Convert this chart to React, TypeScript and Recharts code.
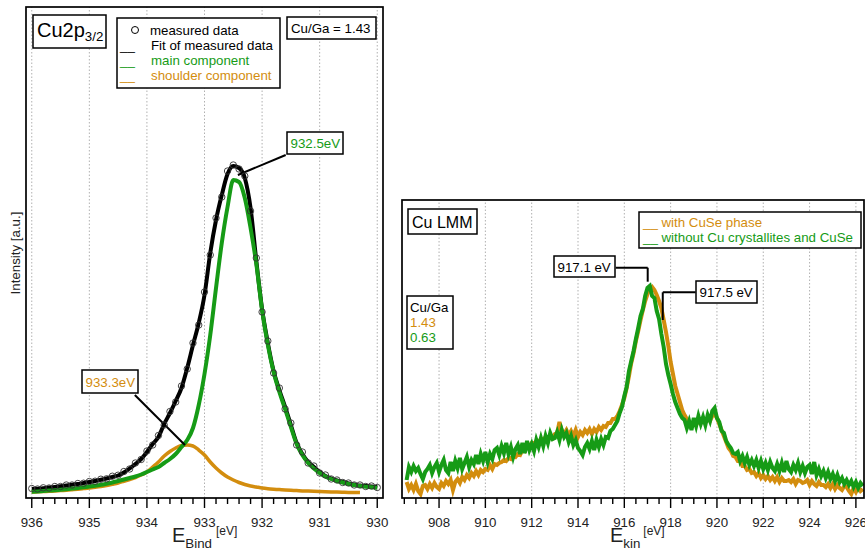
import React from "react";
import { ComposedChart, Line, XAxis, YAxis, ReferenceLine } from "recharts";

const GREEN = "#169b16";
const ORANGE = "#d38d0e";
const FONT = "'Liberation Sans', Arial, Helvetica, sans-serif";

// ---- Cu2p3/2 panel (binding energy, eV) ----
const bindEnergy = [
  936.0, 935.9, 935.8, 935.7, 935.6, 935.5, 935.4, 935.3, 935.2, 935.1, 935.0,
  934.9, 934.8, 934.7, 934.6, 934.5, 934.4, 934.3, 934.2, 934.1, 934.0,
  933.9, 933.8, 933.7, 933.6, 933.5, 933.4, 933.3, 933.2, 933.1, 933.0,
  932.9, 932.8, 932.7, 932.6, 932.5, 932.4, 932.3, 932.2, 932.1, 932.0,
  931.9, 931.8, 931.7, 931.6, 931.5, 931.4, 931.3, 931.2, 931.1, 931.0,
  930.9, 930.8, 930.7, 930.6, 930.5, 930.4, 930.3, 930.2, 930.1, 930.0,
];
const measured = [
  9.5, 9, 10.2, 10, 11.5, 11.5, 13, 13, 14.5, 14.8, 16.5,
  16.8, 18.8, 19.2, 21.8, 22.8, 26.5, 29, 35, 38.5, 47,
  53, 62.5, 73, 86.5, 96, 112, 129, 155, 173, 206,
  243, 280, 301, 327, 333, 329, 322, 287, 240, 186,
  157, 125, 110, 89, 75, 53, 46, 35, 32, 25,
  23, 19, 18, 15.5, 15, 13, 13, 11.5, 12, 10.5,
];
const fitTotal = [
  9, 9.2, 9.8, 10.4, 11.1, 11.8, 12.5, 13.2, 14, 15, 16,
  17, 18.2, 19.5, 21, 22.5, 25.5, 29.5, 34, 39, 46,
  54, 61, 74, 85, 97, 110, 130, 153, 175, 203,
  245, 278, 303, 324, 332, 330, 320, 290, 237, 189,
  155, 127, 108, 91, 73, 55, 44, 36, 31, 26,
  22, 19.5, 17.5, 16, 14.5, 13.5, 12.5, 12, 11.5, 11,
];
const mainComp = [
  6.3, 6.6, 7, 7.4, 7.8, 8.3, 8.8, 9.4, 10, 10.7, 11.5,
  12.3, 13.2, 14.3, 15.5, 17, 18.5, 20, 21.5, 23.5, 26,
  28.5, 31, 35, 39, 44, 51, 58, 70, 93, 124,
  163, 210, 255, 291, 318, 316, 300, 270, 234, 188,
  153, 126, 106, 89, 71, 54, 43, 35, 29.5, 25,
  21.5, 19, 17, 15.5, 14, 13, 12, 11.3, 10.7, 10.3,
];
const shoulderComp = [
  6, 6.2, 6.4, 6.7, 7, 7.4, 7.8, 8.3, 8.8, 9.4, 10,
  10.7, 11.5, 12.5, 13.7, 15, 16.7, 18.5, 20.5, 23, 26,
  31, 36, 42, 46.5, 50, 52.5, 53, 52, 48, 43,
  36, 30, 25, 21, 18, 15.5, 13.5, 12, 11, 10,
  9.3, 8.8, 8.4, 8, 7.7, 7.4, 7.1, 6.9, 6.7, 6.5,
  6.3, 6.1, 5.9, 5.7, 5.6, 5.5, 5.4,
];
const bindMajorTicks = [936, 935, 934, 933, 932, 931, 930];

// ---- Cu LMM panel (kinetic energy, eV), one sample every 0.1 eV ----
const kinStart = 906.6;
const kinStep = 0.1;
const withCuSe = [
  16, 9, 13, 8, 14, 7, 4, 12, 13, 9,
  14, 10, 15, 11, 9, 15, 12, 17, 14, 18,
  8, 16, 19, 15, 21, 18, 23, 20, 25, 22,
  27, 23, 28, 26, 29, 28, 33, 29, 34, 33,
  35, 36, 38, 37, 40, 39, 42, 41, 44, 43,
  48, 47, 53, 52, 55, 54, 57, 56, 59, 58,
  61, 57, 63, 60, 64, 65, 76, 67, 64, 68,
  63, 67, 62, 68, 61, 66, 63, 68, 65, 69,
  64, 69, 66, 71, 68, 72, 71, 75, 75, 79,
  79, 82, 87, 93, 100, 110, 122, 135, 145, 157,
  167, 178, 188, 197, 204, 209, 211, 208, 203, 197,
  190, 178, 166, 152, 136, 124, 112, 104, 96, 88,
  83, 79, 76, 74, 75, 73, 77, 75, 78, 76,
  79, 77, 82, 84, 80, 74, 68, 62, 56, 50,
  47, 42, 41, 37, 37, 32, 32, 28, 29, 25,
  26, 22, 25, 20, 23, 19, 22, 18, 21, 17,
  21, 16, 20, 17, 17, 18, 16, 19, 14, 18,
  17, 15, 16, 18, 13, 17, 14, 12, 16, 13,
  13, 11, 14, 10, 14, 9, 13, 10, 8, 12,
  11, 7, 4, 10, 6, 11, 7, 9,
];
const withoutCu = [
  18, 31, 26, 32, 27, 30, 24, 19, 26, 29,
  33, 25, 31, 35, 26, 33, 38, 28, 25, 36,
  27, 37, 30, 40, 29, 35, 41, 31, 38, 34,
  43, 34, 44, 37, 46, 36, 44, 39, 48, 50,
  43, 52, 45, 55, 44, 51, 41, 49, 53, 44,
  55, 45, 57, 48, 54, 47, 58, 51, 60, 52,
  62, 55, 65, 59, 60, 66, 58, 68, 61, 65,
  56, 62, 53, 58, 50, 47, 43, 51, 55, 49,
  57, 48, 58, 51, 59, 53, 61, 60, 67, 69,
  73, 77, 85, 91, 102, 111, 127, 137, 147, 159,
  170, 182, 189, 202, 210, 212, 202, 200, 187, 179,
  164, 151, 134, 123, 114, 104, 96, 90, 84, 80,
  78, 70, 77, 68, 80, 72, 82, 74, 81, 73,
  83, 77, 87, 90, 80, 76, 67, 65, 57, 53,
  50, 45, 44, 46, 37, 42, 35, 41, 33, 38,
  32, 38, 30, 37, 29, 35, 28, 36, 30, 27,
  34, 27, 35, 26, 37, 29, 26, 33, 28, 35,
  26, 32, 25, 31, 33, 24, 36, 23, 29, 22,
  27, 20, 26, 19, 24, 17, 23, 16, 20, 14,
  18, 13, 17, 11, 16, 10, 15, 12,
];
const kinMajorTicks = [908, 910, 912, 914, 916, 918, 920, 922, 924, 926];

const cu2pRows = bindEnergy.map((e, i) => ({
  e,
  measured: measured[i],
  fit: fitTotal[i],
  main: mainComp[i],
  shoulder: shoulderComp[i] ?? null,
}));

const lmmRows = withCuSe.map((v, i) => ({
  e: Math.round((kinStart + i * kinStep) * 10) / 10,
  cuse: v,
  nocu: withoutCu[i],
}));

const stepTicks = (from: number, to: number, step: number) => {
  const out: number[] = [];
  for (let v = from; v <= to + 1e-6; v += step) out.push(Math.round(v * 10) / 10);
  return out;
};
const bindTicks = stepTicks(930, 936, 0.2);
const kinTicks = stepTicks(906.5, 926, 0.5);

const makeTick = (majors: number[]) => (props: any) => {
  const { x, y, payload } = props;
  const v = payload.value;
  const major = majors.some((m) => Math.abs(m - v) < 1e-6);
  return (
    <g>
      <line x1={x} x2={x} y1={y} y2={y + (major ? 10 : 6)} stroke="#000" strokeWidth={1.4} />
      {major && (
        <text x={x} y={y + 29} textAnchor="middle" fontSize={13.3} fontFamily={FONT} fill="#222">
          {Math.round(v)}
        </text>
      )}
    </g>
  );
};

const grid = (ticks: number[]) =>
  ticks.map((t) => (
    <ReferenceLine key={"g" + t} x={t} stroke="#b0b0b0" strokeWidth={1} strokeDasharray="1.5 2" />
  ));

const leader = (pts: { x: number; y: number }[], key: string) =>
  pts.slice(1).map((p, i) => (
    <ReferenceLine
      key={key + i}
      segment={[pts[i], p]}
      stroke="#000"
      strokeWidth={2}
      ifOverflow="visible"
    />
  ));

const Box = ({ x, y, w, h }: { x: number; y: number; w: number; h: number }) => (
  <rect x={x} y={y} width={w} height={h} fill="#fff" stroke="#000" strokeWidth={1.5} />
);

export default function App() {
  return (
    <div style={{ position: "absolute", left: 0, top: 0, width: 865, height: 552, overflow: "hidden", background: "#fff" }}>
      <div style={{ position: "absolute", left: 0, top: 0 }}>
        <ComposedChart width={390} height={552} data={cu2pRows} margin={{ top: 7, left: 26, right: 7, bottom: 24 }}>
          <XAxis
            dataKey="e"
            type="number"
            reversed
            domain={[929.9, 936.1]}
            allowDataOverflow
            ticks={bindTicks}
            interval={0}
            axisLine={false}
            tickLine={false}
            tickSize={0}
            tickMargin={0}
            height={30}
            tick={makeTick(bindMajorTicks)}
          />
          <YAxis hide domain={[0, 491]} allowDataOverflow />
          {grid(bindMajorTicks)}
          <Line dataKey="shoulder" type="monotone" stroke={ORANGE} strokeWidth={3.5} dot={false} isAnimationActive={false} />
          <Line dataKey="fit" type="monotone" stroke="#000" strokeWidth={4} dot={false} isAnimationActive={false} />
          <Line dataKey="main" type="monotone" stroke={GREEN} strokeWidth={4} dot={false} isAnimationActive={false} />
          <Line
            dataKey="measured"
            stroke="none"
            dot={{ r: 3.2, stroke: "#333", strokeWidth: 0.9, fill: "none" }}
            activeDot={false}
            isAnimationActive={false}
          />
          {leader([{ x: 931.59, y: 343 }, { x: 932.42, y: 323 }], "a")}
          {leader([{ x: 934.21, y: 103 }, { x: 933.34, y: 53 }], "b")}
        </ComposedChart>
      </div>

      <div style={{ position: "absolute", left: 390, top: 0 }}>
        <ComposedChart width={475} height={552} data={lmmRows} margin={{ top: 200, left: 12, right: 1, bottom: 24 }}>
          <XAxis
            dataKey="e"
            type="number"
            domain={[906.4, 926.35]}
            allowDataOverflow
            ticks={kinTicks}
            interval={0}
            axisLine={false}
            tickLine={false}
            tickSize={0}
            tickMargin={0}
            height={30}
            tick={makeTick(kinMajorTicks)}
          />
          <YAxis hide domain={[0, 298]} allowDataOverflow />
          {grid(kinMajorTicks)}
          <Line dataKey="cuse" type="linear" stroke={ORANGE} strokeWidth={4} dot={false} isAnimationActive={false} />
          <Line dataKey="nocu" type="linear" stroke={GREEN} strokeWidth={4} dot={false} isAnimationActive={false} />
          {leader([{ x: 915.63, y: 230.3 }, { x: 917.01, y: 230.3 }, { x: 917.01, y: 216.3 }], "c")}
          {leader([{ x: 919.08, y: 205.7 }, { x: 917.66, y: 205.7 }, { x: 917.66, y: 178 }], "d")}
        </ComposedChart>
      </div>

      <svg
        width={865}
        height={552}
        style={{ position: "absolute", left: 0, top: 0, pointerEvents: "none" }}
        fontFamily={FONT}
      >
        {/* frames */}
        <rect x={26} y={7} width={357} height={491} fill="none" stroke="#000" strokeWidth={1.7} />
        <rect x={402} y={200} width={462} height={298} fill="none" stroke="#000" strokeWidth={1.7} />

        {/* left panel annotations */}
        <Box x={33} y={15} w={73} h={33} />
        <text x={37} y={37} fontSize={20} fill="#000">
          Cu2p<tspan fontSize={13.3} dy={4}>3/2</tspan>
        </text>

        <Box x={117} y={18} w={163} h={70} />
        <circle cx={135} cy={30} r={3.5} fill="none" stroke="#000" strokeWidth={1} />
        <text x={150} y={35} fontSize={13.3} fill="#000">measured data</text>
        <text x={120} y={50} fontSize={13.3} fill="#000">__</text>
        <text x={151} y={50} fontSize={13.3} fill="#000">Fit of measured data</text>
        <text x={120} y={65} fontSize={13.3} fill={GREEN}>__</text>
        <text x={151} y={65} fontSize={13.3} fill={GREEN}>main component</text>
        <text x={120} y={80} fontSize={13.3} fill={ORANGE}>__</text>
        <text x={151} y={80} fontSize={13.3} fill={ORANGE}>shoulder component</text>

        <Box x={287} y={17} w={89} h={22} />
        <text x={291} y={33} fontSize={13.3} fill="#000">Cu/Ga = 1.43</text>

        <Box x={287} y={132} w={56} h={22} />
        <text x={290.5} y={148} fontSize={13.3} fill={GREEN}>932.5eV</text>

        <Box x={82} y={370} w={56} h={23} />
        <text x={85.5} y={387} fontSize={13.3} fill={ORANGE}>933.3eV</text>

        <text x={20} y={253} fontSize={13.3} fill="#222" textAnchor="middle" transform="rotate(-90, 20, 253)">
          Intensity [a.u.]
        </text>
        <text x={172} y={542} fontSize={20} fill="#222">
          E<tspan fontSize={13.3} dy={6}>Bind</tspan>
          <tspan fontSize={12} dx={4} dy={-13}>[eV]</tspan>
        </text>

        {/* right panel annotations */}
        <Box x={408} y={209} w={69} h={25} />
        <text x={412} y={227.5} fontSize={16} fill="#000">Cu LMM</text>

        <Box x={639} y={212} w={222} h={36} />
        <text x={643} y={226.5} fontSize={13.3} fill={ORANGE}>__</text>
        <text x={661.5} y={226.5} fontSize={13.3} fill={ORANGE}>with CuSe phase</text>
        <text x={643} y={242} fontSize={13.3} fill={GREEN}>__</text>
        <text x={661.5} y={242} fontSize={13.3} fill={GREEN}>without Cu crystallites and CuSe</text>

        <Box x={554} y={256} w={61} h={21} />
        <text x={557.5} y={271.5} fontSize={13.3} fill="#000">917.1 eV</text>

        <Box x={696} y={281} w={61} h={22} />
        <text x={699.5} y={296.5} fontSize={13.3} fill="#000">917.5 eV</text>

        <Box x={407} y={296} w={46} h={53} />
        <text x={410} y={311.5} fontSize={13.3} fill="#000">Cu/Ga</text>
        <text x={410} y={327} fontSize={13.3} fill={ORANGE}>1.43</text>
        <text x={410} y={342} fontSize={13.3} fill={GREEN}>0.63</text>

        <text x={610} y={542} fontSize={20} fill="#222">
          E<tspan fontSize={13.3} dy={6}>kin</tspan>
          <tspan fontSize={12} dx={3} dy={-13}>[eV]</tspan>
        </text>
      </svg>
    </div>
  );
}
